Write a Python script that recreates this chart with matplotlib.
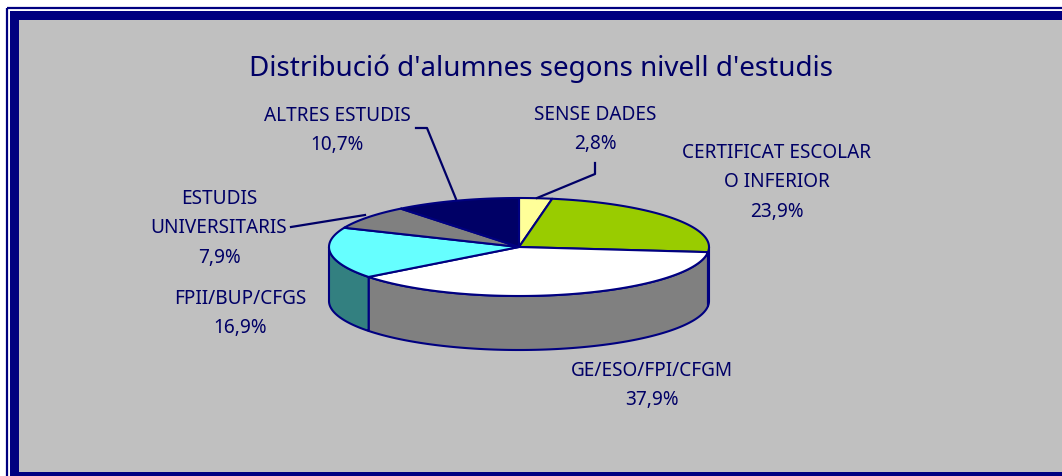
import numpy as np
import matplotlib.pyplot as plt
from matplotlib.patches import Polygon, Rectangle

# data
categories = ["SENSE DADES", "CERTIFICAT ESCOLAR\nO INFERIOR", "GE/ESO/FPI/CFGM",
              "FPII/BUP/CFGS", "ESTUDIS\nUNIVERSITARIS", "ALTRES ESTUDIS"]
percent = [2.8, 23.9, 37.9, 16.9, 7.9, 10.7]
title = "Distribució d'alumnes segons nivell d'estudis"

# styles
top_colors = ["#FFFF99", "#99CC00", "#FFFFFF", "#66FFFF", "#808080", "#000066"]
side_colors = ["#80804D", "#4D6600", "#808080", "#338080", "#404040", "#000033"]
navy = "#000080"
text_color = "#000066"

# layout (pixels)
cx, cy, rx, ry, depth = 519, 248, 190, 49, 54
label_pos = [(595, 120), (777, 158), (652, 376), (240, 304), (219, 204), (337, 121)]
line_step = 29.5
leaders = [
    [(595, 164), (595, 175), (537, 199)],
    None, None, None,
    [(291, 228), (365, 216)],
    [(416, 129), (427, 129), (456, 200)],
]

plt.rcParams['font.family'] = ['Noto Sans', 'DejaVu Sans']
fig = plt.figure(figsize=(10.62, 4.77), dpi=100)
fig.patch.set_facecolor("white")
ax = fig.add_axes([0, 0, 1, 1])
ax.set_xlim(0, 1062)
ax.set_ylim(477, 0)
ax.axis("off")

# frame
ax.add_patch(Rectangle((7, 9), 1100, 500, fill=False, edgecolor=navy, lw=1.6))
ax.add_patch(Rectangle((10, 12), 1100, 500, facecolor=navy, edgecolor="none"))
ax.add_patch(Rectangle((19, 21), 1100, 452, facecolor="#C0C0C0", edgecolor="none"))

ax.text(541, 76, title, ha="center", va="baseline", fontsize=20, color=text_color)


def ellipse_pts(t0, t1, yoff=0, n=120):
    t = np.radians(np.linspace(t0, t1, n))
    return np.column_stack([cx + rx * np.cos(t), cy + yoff - ry * np.sin(t)])


frac = np.array(percent) / np.sum(percent)
ends = 90 - 360 * np.cumsum(frac)
starts = np.concatenate([[90], ends[:-1]])

# side walls (front half only)
for a0, a1, sc in zip(starts, ends, side_colors):
    hi, lo = min(a0, 0), max(a1, -180)
    if hi <= lo:
        continue
    top = ellipse_pts(hi, lo)
    bot = ellipse_pts(lo, hi, yoff=depth)
    ax.add_patch(Polygon(np.vstack([top, bot]), closed=True, facecolor=sc,
                         edgecolor=navy, lw=1.5, joinstyle="round"))

# top faces
for a0, a1, tc in zip(starts, ends, top_colors):
    arc = ellipse_pts(a0, a1)
    pts = np.vstack([[cx, cy], arc])
    ax.add_patch(Polygon(pts, closed=True, facecolor=tc, edgecolor=navy,
                         lw=1.5, joinstyle="round"))

# labels
for cat, p, (lx, ly), ld in zip(categories, percent, label_pos, leaders):
    lines = cat.split("\n") + [f"{p:.1f}%".replace(".", ",")]
    for i, s in enumerate(lines):
        ax.text(lx, ly + i * line_step, s, ha="center", va="baseline",
                fontsize=13.7, color=text_color)
    if ld:
        xs, ys = zip(*ld)
        ax.plot(xs, ys, color=text_color, lw=1.6)

fig.savefig("out.png", dpi=100)
